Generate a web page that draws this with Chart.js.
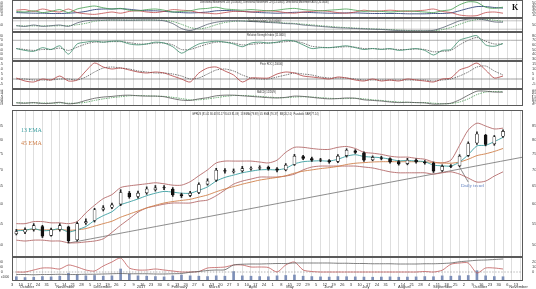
<!DOCTYPE html>
<html>
<head>
<meta charset="utf-8">
<script src="https://cdn.jsdelivr.net/npm/chart.js@4.4.1/dist/chart.umd.min.js"></script>
<style>
  body { margin: 0; background: #fff; }
  #wrap { position: relative; width: 536px; height: 289px; overflow: hidden; }
  canvas { position: absolute; left: 0; }
</style>
</head>
<body>
<div id="wrap">
  <canvas id="cAdx" width="536" height="18" style="top:0"></canvas>
  <canvas id="cSto" width="536" height="14" style="top:18px"></canvas>
  <canvas id="cRsi" width="536" height="29" style="top:32px"></canvas>
  <canvas id="cRoc" width="536" height="28" style="top:61px"></canvas>
  <canvas id="cMacd" width="536" height="17" style="top:89px"></canvas>
  <canvas id="cMain" width="536" height="147" style="top:110px"></canvas>
  <canvas id="cVol" width="536" height="32" style="top:257px"></canvas>
</div>
<script>
// weekly axis, one category per week starting Mon 3 Oct 2016
const weekDays = ['3','10','17','24','31','7','14','21','28','5','12','19','26','2','9','16','23','30','6','13','20','27','6','13','20','27','3','10','17','24','1','8','15','22','29','5','12','19','26','3','10','17','24','31','7','14','21','28','4','11','18','25','2','9','16','23','30','6','13'];
const monthNames = ['October','November','December','2017','February','March','April','May','June','July','August','September','October','November'];

// price (weekly candles)
const open  = [52.6,53.0,53.6,54.3,52.2,53.6,54.2,51.2,55.2,55.8, 58.6,59.2,60.0,63.0,62.1,63.1,64.0,64.6,64.2,62.6, 62.4,63.2,65.6,66.8,69.7,69.3,69.6,70.2,70.4,70.7, 70.2,69.9,71.6,74.2,73.5,73.1,72.9,72.6,74.5,76.1, 75.4,73.1,73.8,73.5,72.5,71.9,73.0,72.4,72.0,69.7, 71.2,71.2,74.6,78.8,81.6,78.5,81.2];
const high  = [53.6,54.0,55.0,54.6,53.9,55.0,54.4,55.4,56.2,58.9, 59.6,60.3,64.0,63.5,63.6,64.8,65.2,65.2,64.6,63.0, 63.5,66.0,67.2,70.4,70.3,70.2,71.0,70.9,71.2,71.1, 70.6,71.9,74.9,74.6,74.0,73.6,73.2,74.8,76.8,76.5, 75.8,74.4,74.3,73.8,72.9,73.6,73.4,72.9,72.4,71.5, 71.6,74.8,79.2,82.8,81.9,81.5,83.6];
const low   = [52.3,52.6,53.2,51.7,52.0,53.2,50.5,50.9,54.8,55.4, 58.2,58.8,59.6,61.6,61.6,62.7,63.6,64.0,62.1,61.8, 62.0,62.9,65.3,66.4,68.9,68.9,69.2,69.8,70.0,69.8, 69.3,69.6,71.3,73.2,72.6,72.5,72.0,72.2,74.0,75.2, 72.6,72.8,73.1,72.0,71.4,71.5,72.0,71.7,69.1,69.4, 70.6,70.9,74.2,78.3,77.8,78.0,80.8];
const close = [53.1,53.5,54.5,52.0,53.5,54.5,51.0,55.0,55.5,58.5, 59.0,59.8,63.2,62.0,63.0,64.2,64.5,64.5,62.5,62.3, 63.0,65.5,66.5,69.8,69.5,69.5,70.3,70.3,70.6,70.3, 69.8,71.4,74.3,73.6,73.0,73.0,72.4,74.3,76.3,75.6, 73.0,73.9,73.6,72.4,71.8,73.0,72.4,72.1,69.5,71.0, 71.0,74.3,78.6,82.0,78.3,81.0,83.0];
const bbUpper = [55.0,55.0,55.5,55.5,55.2,55.2,55.0,55.5,57.7,59.7, 61.5,62.6,64.6,65.1,65.4,65.7,66.0,65.7,65.3,65.3, 66.3,68.1,69.9,72.1,72.7,72.7,72.7,72.7,72.4,72.1, 73.0,75.6,77.3,77.3,76.9,76.6,76.6,77.3,77.6,76.9, 75.6,75.3,74.9,74.3,74.0,74.0,73.6,73.3,72.4,72.1, 73.0,78.0,83.5,86.1,85.0,83.9,84.2];
const bbLower = [51.1,50.9,51.1,51.1,50.9,50.9,50.5,50.5,50.7,50.9, 51.4,52.9,54.6,56.2,57.9,59.0,59.5,60.0,60.3,60.3, 60.3,60.8,61.1,62.3,63.9,65.6,66.5,67.1,67.7,67.7, 67.7,68.0,68.6,69.9,70.8,71.1,71.1,71.1,71.1,71.1, 70.8,70.5,69.9,69.3,69.0,69.0,69.0,69.0,68.6,69.0, 69.3,68.6,67.4,66.2,66.5,68.0,69.3];
const ema13 = [53.3,53.4,53.8,53.3,53.4,53.8,53.0,53.5,54.3,55.8, 57.0,58.0,59.8,60.6,61.4,62.3,63.0,63.5,63.3,63.0, 63.0,63.8,64.8,66.5,67.6,68.3,69.0,69.5,69.9,70.0, 69.9,70.4,71.8,72.5,72.7,72.8,72.7,73.3,74.3,74.8, 74.2,74.0,73.8,73.3,72.8,72.9,72.7,72.5,71.4,71.2, 71.1,72.4,74.8,77.8,78.0,79.3,80.8];
const ema45 = [53.5,53.5,53.6,53.5,53.5,53.6,53.4,53.5,53.8,54.4, 55.0,55.6,56.6,57.4,58.2,59.0,59.7,60.3,60.7,61.0, 61.3,61.9,62.5,63.4,64.2,64.9,65.6,66.2,66.8,67.2, 67.6,68.1,68.9,69.5,69.9,70.3,70.6,71.0,71.6,72.0, 72.2,72.4,72.5,72.5,72.5,72.5,72.5,72.5,72.2,72.1, 72.0,72.4,73.3,74.5,75.1,75.9,76.9];
const trendLine = [{ x: 6.4, y: 50.4 }, { x: 58.8, y: 74.0 }];
const trendPointer = [{ x: 52.5, y: 66.2 }, { x: 51.5, y: 70.8 }];
const priceTicks = [50, 55, 60, 65, 70, 75, 80, 85];

// directional movement
const plusDI  = [22,20,24,18,22,28,18,30,36,40, 34,30,32,26,24,28,30,26,20,22, 24,30,32,36,30,28,26,28,26,24, 26,30,32,28,26,24,26,28,30,26, 22,24,22,20,22,24,22,20,18,24, 28,44,54,52,36,32,36];
const minusDI = [26,28,22,30,24,20,30,18,14,12, 16,20,16,22,24,20,18,22,28,26, 24,18,16,14,18,22,22,20,22,24, 22,18,16,20,22,24,22,18,16,20, 26,22,24,26,24,22,24,26,30,22, 18,10,7,8,18,20,16];
const adx     = [18,17,16,16,15,15,16,18,22,28, 30,30,31,29,26,24,24,22,20,18, 17,18,20,24,25,24,22,20,18,17, 16,17,19,19,18,17,16,16,17,17, 16,15,15,15,15,14,14,14,15,15, 17,24,32,38,38,35,33];

// slow stochastic
const stochK = [45,40,50,40,45,50,40,65,80,85, 85,86,85,84,85,86,85,80,60,25, 10,30,55,70,78,80,78,75,72,68, 65,60,58,50,45,40,35,30,28,25, 22,20,18,14,10,8,8,8,12,30, 55,80,92,95,85,72,70];
const stochD = [45,43,44,44,43,45,45,52,62,77, 83,85,85,85,85,85,85,84,75,55, 32,22,32,52,68,76,79,78,75,72, 68,64,61,56,51,45,40,35,31,28, 25,22,20,17,14,11,9,8,9,17, 32,55,76,89,91,84,76];

// RSI
const rsi    = [52,48,46,54,50,58,40,62,66,68, 66,68,68,62,60,62,66,64,56,42, 52,62,66,68,66,62,56,64,66,64, 66,70,68,60,52,54,54,56,58,54, 50,52,50,52,48,50,52,48,38,48, 50,70,76,80,60,57,63];
const rsiSig = [52,50,48,50,50,53,48,55,62,66, 66,67,67,65,62,62,64,64,60,50, 50,56,62,66,66,64,60,61,63,64, 65,67,68,64,57,55,54,55,56,55, 52,52,51,51,50,50,51,50,45,46, 48,60,70,76,68,62,62];

// price ROC
const roc    = [1,-2,-3,0,-1,3,-2,-1,8,16, 12,10,11,9,7,6,7,6,3,0, -3,6,11,12,8,4,-3,1,1,1, 5,7,6,3,2,1,0,2,1,-1, -2,0,-2,-1,-2,0,-1,-2,-3,0, 1,9,12,16,9,1,3];
const rocSig = [0,0,-1,-1,-1,0,0,-1,2,7, 11,12,11,10,8,7,6,6,5,3, 0,1,5,9,10,8,4,1,0,0, 2,4,6,5,4,2,1,1,1,0, -1,-1,-1,-1,-1,-1,-1,-1,-2,-1, 0,3,7,12,13,8,4];

// MACD
const macd    = [-0.5,-0.6,-0.4,-0.7,-0.6,-0.3,-0.8,-0.5,0.3,1.0, 1.4,1.6,1.9,2.0,1.8,1.7,1.7,1.5,0.9,0.4, 0.3,0.8,1.2,1.8,2.0,2.0,1.8,1.6,1.4,1.2, 1.1,1.3,1.7,1.6,1.3,1.0,0.8,0.9,1.1,1.0, 0.5,0.3,0.1,-0.2,-0.4,-0.3,-0.4,-0.5,-0.9,-0.8, -0.6,0.5,2.0,3.3,3.3,3.0,3.0];
const macdSig = [-0.4,-0.5,-0.5,-0.5,-0.6,-0.5,-0.6,-0.6,-0.3,0.3, 0.8,1.2,1.5,1.8,1.9,1.8,1.7,1.6,1.3,0.9, 0.5,0.5,0.8,1.2,1.6,1.9,1.9,1.8,1.6,1.4, 1.2,1.2,1.4,1.5,1.4,1.2,1.0,0.9,0.9,1.0, 0.8,0.5,0.3,0.0,-0.2,-0.3,-0.4,-0.4,-0.6,-0.8, -0.7,-0.2,0.8,2.2,3.0,3.2,3.1];

// volume panel
const volume   = [250,200,220,260,240,280,450,350,300,320, 280,300,700,400,300,280,260,240,300,350, 300,280,260,300,280,550,300,280,260,250, 300,320,350,280,260,240,230,260,250,240, 230,220,230,240,220,230,240,260,250,300, 280,300,320,600,300,260,250];
const volDark  = [-500,-500,-550,-500,-500,-450,-500,-500,-450,-450, -400,-350,-300,-350,-350,-350,-400,-400,-350,-300, -50,100,300,400,450,1400,1550,1600,1600,1650, 1700,1700,1800,1800,1800,1800,1800,1750,1750,1700, 1700,1650,1650,1650,1600,1600,1600,1650,1650,1700, 1800,2050,2200,2350,2400,2500,2600];
const volRed   = [0,0,400,800,800,600,1400,1000,400,200, 1200,2000,2800,800,400,400,600,400,200,0, 0,100,800,900,1000,1400,1400,1000,1000,900, 0,1400,2000,400,100,0,0,0,0,0, 0,0,0,0,0,0,0,100,0,350, 1550,1800,1800,-200,800,800,600];

const WEEK_END = 58.8;
const startDay = Date.UTC(2016, 9, 3);
const monthPos = monthNames.map((m, k) => (Date.UTC(2016, 9 + k, 15) - startDay) / (7 * 864e5));

const pts = arr => arr.map((v, i) => ({ x: i + 0.5, y: v }));
const flat = v => [{ x: 0, y: v }, { x: WEEK_END, y: v }];

function line(data, color, width, dash, axis) {
  return { type: 'line', data, borderColor: color, borderWidth: width || 0.8, borderDash: dash || [],
           pointRadius: 0, tension: 0.25, fill: false, yAxisID: axis || 'y' };
}

const notes = {
  cAdx: [
    { text: 'Directional Movement +DI (20.0000), Directional Movement -DI (14.0000), Directional Movement ADX (20.0000)', x: 200, y: 1, font: '2.6px Arial', color: '#333' },
    { text: 'K', x: 512, y: 4, font: 'bold 8px "Liberation Serif"', color: '#111' }
  ],
  cSto: [{ text: 'Stochastic(slow) (14,3.0000)', x: 248, y: 1.5, font: '2.6px Arial', color: '#333' }],
  cRsi: [{ text: 'Relative Strength Index (11.0000)', x: 247, y: 1.5, font: '2.6px Arial', color: '#333' }],
  cRoc: [{ text: 'Price ROC (.20000)', x: 260, y: 1.5, font: '2.6px Arial', color: '#333' }],
  cMacd: [{ text: 'MACD (12/26/9)', x: 257, y: 1.5, font: '2.6px Arial', color: '#333' }],
  cMain: [
    { text: 'GPRUS (81.01 80.63 81.17 80.43 81.09)  13 EMA (79.98)  45 EMA (76.37)  BB(20,2.0)  Parabolic SAR(77.14)', x: 192, y: 2.5, font: '2.6px Arial', color: '#333' },
    { text: '13 EMA', x: 21, y: 17, font: '6px "Liberation Serif"', color: '#3a9ea0' },
    { text: '45 EMA', x: 21, y: 30, font: '6px "Liberation Serif"', color: '#d0804a' },
    { text: 'Daily trend', x: 461, y: 73, font: '5px "Liberation Serif"', color: '#6080c0' }
  ],
  cVol: [{ text: 'x1000', x: 1, y: 19, font: '3px Arial', color: '#333' }]
};

const framePlugin = {
  id: 'frame',
  afterDraw(chart) {
    const a = chart.chartArea, c = chart.ctx;
    c.save();
    c.strokeStyle = '#5a5a5a';
    c.lineWidth = 1;
    c.strokeRect(a.left + 0.5, a.top + 0.5, a.right - a.left - 1, a.bottom - a.top - 1);
    c.textBaseline = 'top';
    (notes[chart.canvas.id] || []).forEach(n => {
      c.font = n.font;
      c.fillStyle = n.color;
      c.fillText(n.text, n.x, n.y);
    });
    c.restore();
  }
};

const monthsPlugin = {
  id: 'months',
  afterDraw(chart) {
    const sx = chart.scales.x, c = chart.ctx;
    c.save();
    c.font = '4px Arial';
    c.fillStyle = '#333';
    c.textAlign = 'center';
    c.textBaseline = 'bottom';
    monthNames.forEach((m, k) => c.fillText(m, sx.getPixelForValue(monthPos[k]), chart.height));
    c.restore();
  }
};

function xAxis(showLabels) {
  return {
    type: 'linear', min: 0, max: WEEK_END, offset: false,
    grid: { color: '#dedede', lineWidth: 1, drawTicks: false },
    border: { display: false },
    ticks: { display: showLabels, font: { size: 4, family: 'Arial' }, color: '#333', maxRotation: 0,
             autoSkip: false, padding: 1, callback: v => weekDays[v] || '' },
    afterBuildTicks: s => { s.ticks = weekDays.map((d, i) => ({ value: i })); },
    afterFit: s => { s.height = showLabels ? 8 : 0; s.paddingLeft = 0; s.paddingRight = 0; }
  };
}

function yAxes(type, min, max, ticks, size) {
  const make = pos => ({
    type, min, max, position: pos,
    grid: { display: false },
    border: { display: false },
    ticks: { font: { size: size || 4, family: 'Arial' }, color: '#444', padding: 1, autoSkip: false, callback: v => v },
    afterBuildTicks: s => { s.ticks = ticks.map(v => ({ value: v })); },
    afterFit: s => { s.width = pos === 'left' ? 12 : 13; s.paddingTop = 0; s.paddingBottom = 0; }
  });
  return { y: make('right'), yl: make('left') };
}

function panel(id, datasets, scales, showDates) {
  return new Chart(document.getElementById(id), {
    type: 'line',
    data: { datasets },
    options: {
      responsive: false, animation: false, events: [],
      layout: { padding: 0 },
      plugins: { legend: { display: false }, tooltip: { enabled: false } },
      scales: Object.assign({ x: xAxis(showDates) }, scales)
    },
    plugins: showDates ? [framePlugin, monthsPlugin] : [framePlugin]
  });
}

panel('cAdx', [
  line(pts(plusDI), '#3f9a4a'),
  line(pts(minusDI), '#c24a4a'),
  line(pts(adx), '#4a5a8a', 1)
], yAxes('linear', 0, 60, [10, 20, 30, 40, 50]));

panel('cSto', [
  line(pts(stochK), '#556070'),
  line(pts(stochD), '#4f9a5a', 0.8, [1.5, 1]),
  line(flat(80), '#9a9a9a', 0.6),
  line(flat(20), '#9a9a9a', 0.6)
], yAxes('linear', 0, 100, [50]));

panel('cRsi', [
  line(pts(rsi), '#3a8a6a'),
  line(pts(rsiSig), '#555', 0.8, [1.5, 1]),
  line(flat(70), '#8a8a8a', 0.7),
  line(flat(30), '#8a8a8a', 0.7)
], yAxes('linear', 25, 88, [30, 40, 50, 60, 70, 80]));

panel('cRoc', [
  line(pts(roc), '#b04040'),
  line(pts(rocSig), '#555', 0.8, [1.5, 1]),
  line(flat(0), '#777', 0.7)
], yAxes('linear', -10, 18, [-5, 0, 5, 10, 15]));

panel('cMacd', [
  line(pts(macd), '#555'),
  line(pts(macdSig), '#4f9a5a', 0.8, [1.5, 1])
], yAxes('linear', -1.5, 4, [-1, -0.5, 0, 0.5, 1, 1.5, 2, 2.5, 3, 3.5], 3));

panel('cMain', [
  { type: 'bar', data: open.map((o, i) => ({ x: i + 0.5, y: [o, close[i]] })), grouped: false,
    barThickness: 3, borderWidth: 0.6, borderColor: '#111', borderSkipped: false,
    backgroundColor: open.map((o, i) => close[i] >= o ? '#ffffff' : '#111111') },
  { type: 'bar', data: low.map((l, i) => ({ x: i + 0.5, y: [l, high[i]] })), grouped: false,
    barThickness: 1, backgroundColor: '#222' },
  line(pts(ema13), '#3a9ea0', 0.9),
  line(pts(ema45), '#d0804a', 0.9),
  line(pts(bbUpper), '#b46a6a', 0.9),
  line(pts(bbLower), '#b46a6a', 0.9),
  line(trendLine, '#808080', 0.9),
  line(trendPointer, '#555', 0.7)
], yAxes('logarithmic', 47.4, 91.3, priceTicks));

const volScales = yAxes('linear', -1800, 3000, [0, 1000, 2000]);
volScales.yv = { type: 'linear', min: 0, max: 1400, display: false };
panel('cVol', [
  line(pts(volDark), '#606060'),
  line(pts(volRed), '#c05a5a'),
  line(flat(0), '#888', 0.6, [1.5, 1.5]),
  { type: 'bar', data: pts(volume), yAxisID: 'yv', grouped: false, barThickness: 2, backgroundColor: '#7d8fb8' }
], volScales, true);
</script>
</body>
</html>
